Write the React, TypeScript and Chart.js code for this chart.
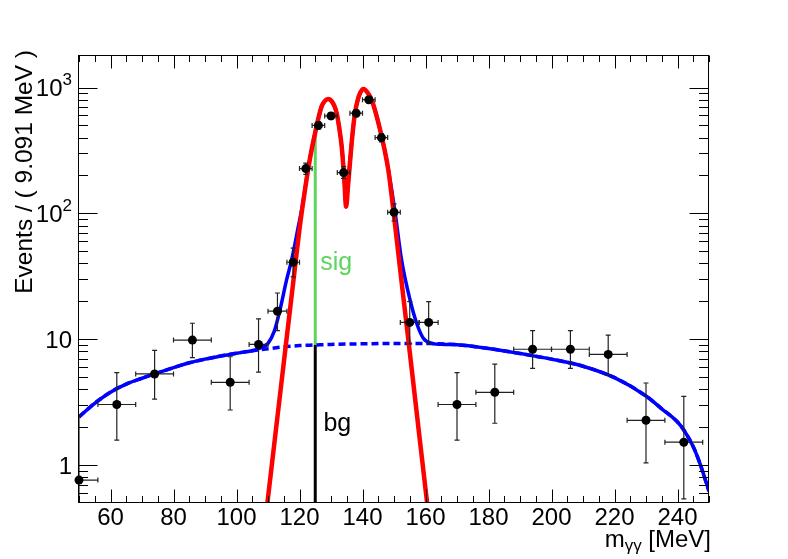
import React, { useEffect, useRef } from 'react';
import { Chart, registerables } from 'chart.js';

Chart.register(...registerables);

// binned data, events / ( 9.091 MeV )
const binCenter = [50, 62, 74, 86, 98, 107, 113, 118, 122, 126, 130, 134, 138, 142, 146, 150, 155, 161, 170, 182, 194, 206, 218, 230, 242];
const binLow = [44, 56, 68, 80, 92, 104, 110, 116, 120, 124, 128, 132, 136, 140, 144, 148, 152, 158, 164, 176, 188, 200, 212, 224, 236];
const binHigh = [56, 68, 80, 92, 104, 110, 116, 120, 124, 128, 132, 136, 140, 144, 148, 152, 158, 164, 176, 188, 200, 212, 224, 236, 248];
const events = [0.76, 3.03, 5.3, 9.85, 4.55, 9.09, 16.7, 40.9, 227, 500, 595, 211, 625, 800, 400, 102, 13.6, 13.6, 3.03, 3.79, 8.33, 8.33, 7.58, 2.27, 1.52];
const evLow = [0.13, 1.58, 3.35, 7.15, 2.74, 5.48, 11.7, 31.3, 204, 466, 559, 190, 587, 757, 370, 87, 9.2, 9.2, 1.58, 2.15, 5.86, 5.86, 5.21, 1.04, 0.54];
const evHigh = [2.5, 5.43, 8.16, 13.4, 7.26, 14.5, 23.3, 52.9, 251, 535, 632, 235, 664, 844, 431, 119, 19.9, 19.9, 5.43, 6.35, 11.7, 11.7, 10.8, 4.49, 3.52];

// background pdf (dashed)
const bgX = [50, 55, 60, 65, 70, 75, 80, 85, 90, 95, 100, 105, 110, 115, 120, 125, 130, 140, 150, 160, 170, 180, 190, 200, 210, 220, 230, 235, 240, 242, 245, 247, 250];
const bgY = [2.42, 3.1, 3.8, 4.4, 4.9, 5.4, 5.95, 6.5, 6.95, 7.35, 7.75, 8.1, 8.4, 8.7, 8.9, 9.0, 9.1, 9.2, 9.25, 9.25, 9.05, 8.45, 7.7, 6.95, 6.1, 4.95, 3.54, 2.8, 2.2, 1.9, 1.4, 1.05, 0.62];

// signal pdf (red)
const sigX = [108, 110, 112, 114, 116, 118, 120, 121, 122, 123, 124, 125, 126, 127, 128, 129.1, 130, 131, 131.8, 132.6, 133.4, 134.2, 134.8, 135.4, 136, 136.8, 137.6, 138.5, 139.4, 140.3, 141.5, 142.9, 144.2, 145.6, 147, 148.2, 149.8, 152, 154, 156, 158, 160.4, 162];
const sigY = [0.21, 0.55, 1.48, 3.95, 10.6, 28.2, 75, 115, 170, 245, 335, 440, 570, 705, 780, 811, 790, 720, 625, 480, 339, 190, 113, 165, 250, 420, 625, 800, 920, 975, 920, 797, 630, 460, 320, 221, 106, 35, 13, 4.8, 1.75, 0.53, 0.24];

// total pdf (blue)
const totX = [50, 55, 60, 65, 70, 75, 80, 85, 90, 95, 100, 105, 108, 110, 112, 113.8, 115.9, 117.5, 119.6, 121, 122, 123, 124, 125, 126, 127, 128, 129.1, 130, 131, 131.8, 132.6, 133.4, 134.2, 134.8, 135.4, 136, 136.8, 137.6, 138.5, 139.4, 140.3, 141.5, 142.9, 144.2, 145.6, 147, 148.2, 150.3, 152.4, 155.1, 157.2, 159.3, 162, 166, 170, 180, 190, 200, 210, 220, 230, 235, 240, 242, 245, 247, 250];
const totY = [2.42, 3.1, 3.8, 4.4, 4.9, 5.4, 5.95, 6.5, 6.95, 7.35, 7.75, 8.1, 8.6, 9.28, 11.6, 17.1, 29.6, 42.7, 78, 118, 172, 247, 337, 440, 570, 705, 780, 811, 790, 720, 625, 480, 339, 192, 118, 168, 252, 420, 625, 800, 920, 975, 920, 797, 630, 460, 322, 223, 104, 42.7, 20.5, 13.4, 10.2, 9.28, 9.1, 9.05, 8.45, 7.7, 6.95, 6.1, 4.95, 3.54, 2.8, 2.2, 1.9, 1.4, 1.05, 0.62];

// sig / bg split at m = 125
const splitX = 125;
const splitTop = 433;
const splitBg = 9.0;
const splitBottom = 0.4;

const xTickValues = [60, 80, 100, 120, 140, 160, 180, 200, 220, 240];
const xTickLabels = ['60', '80', '100', '120', '140', '160', '180', '200', '220', '240'];
const yTickValues = [1, 10, 100, 1000];
const yTickBase = ['1', '10', '10', '10'];
const yTickExp = ['', '', '2', '3'];

const FONT = '"Liberation Sans", Arial, Helvetica, sans-serif';

const pts = (xs: number[], ys: number[]) => xs.map((x, i) => ({ x, y: ys[i] }));

const rootStyle = {
  id: 'rootStyle',
  beforeDatasetDraw(chart: any, args: any) {
    if (args.index !== 0) return;
    const { ctx, chartArea: a, scales } = chart;
    const xs = scales.x, ys = scales.y;
    ctx.save();
    ctx.beginPath();
    ctx.rect(a.left, a.top, a.right - a.left, a.bottom - a.top);
    ctx.clip();
    ctx.strokeStyle = '#222';
    ctx.lineWidth = 1.2;
    const cap = 2.5;
    binCenter.forEach((c, i) => {
      const px = xs.getPixelForValue(c);
      const py = ys.getPixelForValue(events[i]);
      const x0 = xs.getPixelForValue(binLow[i]);
      const x1 = xs.getPixelForValue(binHigh[i]);
      const y0 = ys.getPixelForValue(evLow[i]);
      const y1 = ys.getPixelForValue(evHigh[i]);
      ctx.beginPath();
      ctx.moveTo(x0, py); ctx.lineTo(x1, py);
      ctx.moveTo(px, y0); ctx.lineTo(px, y1);
      ctx.moveTo(x0, py - cap); ctx.lineTo(x0, py + cap);
      ctx.moveTo(x1, py - cap); ctx.lineTo(x1, py + cap);
      ctx.moveTo(px - cap, y0); ctx.lineTo(px + cap, y0);
      ctx.moveTo(px - cap, y1); ctx.lineTo(px + cap, y1);
      ctx.stroke();
    });
    ctx.restore();
  },
  afterDatasetsDraw(chart: any) {
    const { ctx, scales } = chart;
    ctx.save();
    ctx.font = `25px ${FONT}`;
    ctx.textAlign = 'left';
    ctx.textBaseline = 'alphabetic';
    ctx.fillStyle = '#5dd55d';
    ctx.fillText('sig', scales.x.getPixelForValue(126.6), scales.y.getPixelForValue(35.5));
    ctx.fillStyle = '#000';
    ctx.fillText('bg', scales.x.getPixelForValue(127.6), scales.y.getPixelForValue(1.86));
    ctx.restore();
  },
  afterDraw(chart: any) {
    const { ctx, chartArea: a, scales } = chart;
    const xs = scales.x, ys = scales.y;
    ctx.save();
    ctx.strokeStyle = '#000';
    ctx.lineWidth = 1;
    const L = Math.round(a.left) - 0.5;
    const R = Math.round(a.right) - 0.5;
    const T = Math.round(a.top) - 0.5;
    const B = Math.round(a.bottom) - 0.5;
    ctx.strokeRect(L, T, R - L, B - T);

    ctx.beginPath();
    for (let v = 50; v <= 250; v += 5) {
      const px = Math.round(xs.getPixelForValue(v)) + 0.5;
      const len = xTickValues.includes(v) ? 13 : 6.5;
      ctx.moveTo(px, B); ctx.lineTo(px, B - len);
      ctx.moveTo(px, T); ctx.lineTo(px, T + len);
    }
    const yMinor: number[] = [];
    [0.1, 1, 10, 100, 1000].forEach((d) => {
      for (let m = 2; m <= 9; m++) yMinor.push(m * d);
    });
    yMinor.concat(yTickValues).forEach((v) => {
      if (v <= ys.min || v >= ys.max) return;
      const py = Math.round(ys.getPixelForValue(v)) + 0.5;
      const len = yTickValues.includes(v) ? 19 : 9.5;
      ctx.moveTo(L, py); ctx.lineTo(L + len, py);
      ctx.moveTo(R, py); ctx.lineTo(R - len, py);
    });
    ctx.stroke();

    ctx.fillStyle = '#000';
    ctx.font = `24px ${FONT}`;
    ctx.textAlign = 'center';
    ctx.textBaseline = 'alphabetic';
    xTickValues.forEach((v, i) => {
      ctx.fillText(xTickLabels[i], xs.getPixelForValue(v), 525);
    });

    yTickValues.forEach((v, i) => {
      const py = ys.getPixelForValue(v) + 8.6;
      const right = 72;
      ctx.textAlign = 'right';
      if (yTickExp[i]) {
        ctx.font = `17px ${FONT}`;
        const ew = ctx.measureText(yTickExp[i]).width;
        ctx.fillText(yTickExp[i], right, py - 11);
        ctx.font = `24px ${FONT}`;
        ctx.fillText(yTickBase[i], right - ew, py);
      } else {
        ctx.font = `24px ${FONT}`;
        ctx.fillText(yTickBase[i], right, py);
      }
    });

    // x title: m_{γγ} [MeV]
    ctx.textAlign = 'left';
    ctx.font = `24px ${FONT}`;
    const wM = ctx.measureText('m').width;
    const wUnit = ctx.measureText(' [MeV]').width;
    ctx.font = `17px ${FONT}`;
    const wSub = ctx.measureText('γγ').width;
    let tx = 711 - (wM + wSub + wUnit);
    ctx.font = `24px ${FONT}`;
    ctx.fillText('m', tx, 547);
    tx += wM;
    ctx.font = `17px ${FONT}`;
    ctx.fillText('γγ', tx, 551);
    tx += wSub;
    ctx.font = `24px ${FONT}`;
    ctx.fillText(' [MeV]', tx, 547);

    // y title
    ctx.font = `24.5px ${FONT}`;
    ctx.translate(32, 50);
    ctx.rotate(-Math.PI / 2);
    ctx.textAlign = 'right';
    ctx.fillText('Events / ( 9.091 MeV )', 0, 0);
    ctx.restore();
  },
};

export default function App() {
  const canvasRef = useRef<HTMLCanvasElement>(null);
  const chartRef = useRef<Chart | null>(null);

  useEffect(() => {
    document.body.style.margin = '0';
    if (chartRef.current) chartRef.current.destroy();
    const ctx = canvasRef.current!.getContext('2d')!;

    const curve = { pointRadius: 0, cubicInterpolationMode: 'monotone' as const, fill: false, clip: 0 };

    chartRef.current = new Chart(ctx, {
      type: 'line',
      data: {
        datasets: [
          {
            label: 'data',
            data: pts(binCenter, events),
            showLine: false,
            pointRadius: 4.5,
            pointBackgroundColor: '#000',
            pointBorderColor: '#000',
            pointBorderWidth: 0,
            order: 0,
            clip: false,
          },
          { label: 'sig', data: pts(sigX, sigY), borderColor: '#ff0000', borderWidth: 4.5, order: 1, ...curve },
          { label: 'total', data: pts(totX, totY), borderColor: '#0000ff', borderWidth: 3.5, order: 2, ...curve },
          { label: 'bg', data: pts(bgX, bgY), borderColor: '#0000ff', borderWidth: 3.5, borderDash: [7, 4], order: 3, ...curve },
          {
            label: 'sigLine',
            data: pts([splitX, splitX], [splitTop, splitBg]),
            borderColor: '#5dd55d', borderWidth: 3, order: 4, ...curve,
          },
          {
            label: 'bgLine',
            data: pts([splitX, splitX], [splitBg, splitBottom]),
            borderColor: '#000', borderWidth: 3, order: 5, ...curve,
          },
        ],
      },
      options: {
        responsive: false,
        animation: false,
        layout: { padding: { left: 79, right: 79, top: 56, bottom: 56 } },
        plugins: { legend: { display: false }, tooltip: { enabled: false } },
        scales: {
          x: { type: 'linear', display: false, min: 50, max: 250 },
          y: { type: 'logarithmic', display: false, min: 0.5, max: 1780 },
        },
      },
      plugins: [rootStyle],
    });

    return () => {
      chartRef.current?.destroy();
      chartRef.current = null;
    };
  }, []);

  return (
    <div style={{ width: 788, height: 559 }}>
      <canvas ref={canvasRef} width={788} height={559} style={{ display: 'block' }} />
    </div>
  );
}
